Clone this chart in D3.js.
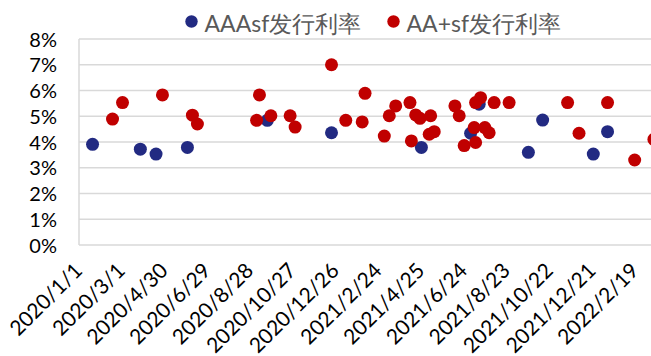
<!DOCTYPE html>
<html>
<head>
<meta charset="utf-8">
<script src="https://cdn.jsdelivr.net/npm/d3@7/dist/d3.min.js"></script>
<style>
  html, body { margin: 0; padding: 0; background: #fff; }
  svg { display: block; }
</style>
</head>
<body>
<svg id="chart" width="651" height="356"></svg>
<script>
// Issuance rates by date (%), two rating grades
const aaaDates = ["2020-01-20","2020-03-27","2020-04-18","2020-06-01","2020-09-21","2020-12-20",
  "2021-04-25","2021-07-03","2021-07-15","2021-09-22","2021-10-12","2021-12-22","2022-01-11"];
const aaaRates = [3.91,3.72,3.53,3.79,4.84,4.36,3.79,4.34,5.47,3.60,4.85,3.53,4.40];

const aapDates = ["2020-02-17","2020-03-02","2020-04-27","2020-06-08","2020-06-15","2020-09-06",
  "2020-09-10","2020-09-26","2020-10-23","2020-10-30","2020-12-20","2021-01-09","2021-02-01",
  "2021-02-05","2021-03-04","2021-03-11","2021-03-20","2021-04-09","2021-04-11","2021-04-17",
  "2021-04-23","2021-05-06","2021-05-08","2021-05-13","2021-06-11","2021-06-17","2021-06-24",
  "2021-07-08","2021-07-10","2021-07-10","2021-07-17","2021-07-23","2021-07-29","2021-08-05",
  "2021-08-26","2021-11-16","2021-12-02","2022-01-11","2022-02-18","2022-03-17"];
const aapRates = [4.89,5.53,5.83,5.04,4.70,4.84,5.83,5.02,5.02,4.58,7.00,4.84,4.78,
  5.89,4.23,5.02,5.40,5.53,4.04,5.05,4.92,4.30,5.02,4.40,5.40,5.02,3.86,
  4.56,5.53,3.98,5.72,4.56,4.36,5.53,5.53,5.53,4.34,5.53,3.30,4.10];

const xTickDates = ["2020-01-01","2020-03-01","2020-04-30","2020-06-29","2020-08-28","2020-10-27",
  "2020-12-26","2021-02-24","2021-04-25","2021-06-24","2021-08-23","2021-10-22","2021-12-21","2022-02-19"];
const yTicks = [0,1,2,3,4,5,6,7,8];

const seriesNames = ["AAAsf发行利率", "AA+sf发行利率"];
const seriesColors = ["#222a82", "#c00000"];

const parse = d3.utcParse("%Y-%m-%d");
const fmtTick = d => `${d.getUTCFullYear()}/${d.getUTCMonth() + 1}/${d.getUTCDate()}`;

const svg = d3.select("#chart");
const font = "Lato, 'Open Sans', sans-serif";

const plotLeft = 79, plotTop = 39, plotBottom = 245;
const x = d3.scaleUtc()
  .domain([parse("2020-01-01"), parse("2022-04-20")])
  .range([plotLeft, plotLeft + 840 * 0.7133]);
const y = d3.scaleLinear().domain([0, 8]).range([plotBottom, plotTop]);
const plotRight = x.range()[1];

// horizontal gridlines
svg.append("g")
  .selectAll("line")
  .data(yTicks)
  .join("line")
  .attr("x1", plotLeft).attr("x2", plotRight)
  .attr("y1", d => y(d)).attr("y2", d => y(d))
  .attr("stroke", "#d9d9d9").attr("stroke-width", 1.5);

// vertical axis line
svg.append("line")
  .attr("x1", plotLeft).attr("x2", plotLeft)
  .attr("y1", y(8)).attr("y2", y(0))
  .attr("stroke", "#d9d9d9").attr("stroke-width", 1.5);

// y axis labels
const yAxis = d3.axisLeft(y).tickValues(yTicks).tickFormat(d => d + "%").tickSize(0).tickPadding(22);
const gy = svg.append("g").attr("transform", `translate(${plotLeft},0)`).call(yAxis);
gy.select(".domain").remove();
gy.selectAll("text")
  .attr("font-family", font).attr("font-size", 20).attr("fill", "#000")
  .attr("dy", "0.36em");

// x axis labels, rotated
const xAxis = d3.axisBottom(x).tickValues(xTickDates.map(parse)).tickFormat(fmtTick).tickSize(0).tickPadding(0);
const gx = svg.append("g").attr("transform", `translate(0,${plotBottom})`).call(xAxis);
gx.select(".domain").remove();
gx.selectAll("text")
  .attr("font-family", font).attr("font-size", 21).attr("fill", "#000")
  .attr("text-anchor", "end")
  .attr("dy", 0).attr("y", 0)
  .attr("transform", "translate(4,27) rotate(-45)");

// markers: AAA first, AA+ drawn over it
const r = 6.5;
svg.append("g").selectAll("circle")
  .data(aaaDates.map((d, i) => ({ date: parse(d), v: aaaRates[i] })))
  .join("circle")
  .attr("cx", d => x(d.date)).attr("cy", d => y(d.v)).attr("r", r)
  .attr("fill", seriesColors[0]);

svg.append("g").selectAll("circle")
  .data(aapDates.map((d, i) => ({ date: parse(d), v: aapRates[i] })))
  .join("circle")
  .attr("cx", d => x(d.date)).attr("cy", d => y(d.v)).attr("r", r)
  .attr("fill", seriesColors[1]);

// legend
const legendX = [191.5, 393.5];
const lg = svg.append("g").selectAll("g")
  .data(seriesNames)
  .join("g")
  .attr("transform", (d, i) => `translate(${legendX[i]},21.5)`);
lg.append("circle").attr("r", 6.2).attr("fill", (d, i) => seriesColors[i]);
lg.append("text")
  .attr("x", 13).attr("y", 10.5)
  .attr("font-family", font).attr("font-size", 23).attr("fill", "#595959")
  .text(d => d);
</script>
</body>
</html>
